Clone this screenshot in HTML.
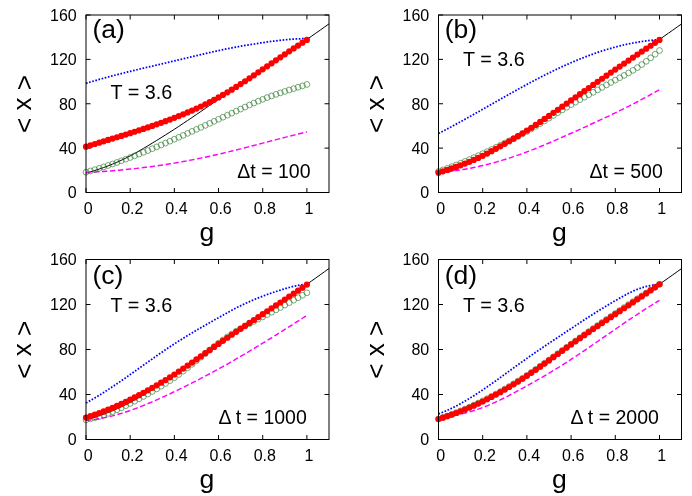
<!DOCTYPE html>
<html><head><meta charset="utf-8"><title>Chart</title>
<style>html,body{margin:0;padding:0;background:#fff;}body{width:692px;height:496px;overflow:hidden;font-family:"Liberation Sans",sans-serif;}svg{display:block;will-change:transform;}</style>
</head><body>
<svg width="692" height="496" viewBox="0 0 692 496" font-family="Liberation Sans, sans-serif">
<rect width="692" height="496" fill="#fff"/>
<g>
<path d="M86 192.5v-4.5M86 15v4.5M130.18 192.5v-4.5M130.18 15v4.5M174.36 192.5v-4.5M174.36 15v4.5M218.54 192.5v-4.5M218.54 15v4.5M262.72 192.5v-4.5M262.72 15v4.5M306.9 192.5v-4.5M306.9 15v4.5M86 192.5h4.5M329 192.5h-4.5M86 148.12h4.5M329 148.12h-4.5M86 103.75h4.5M329 103.75h-4.5M86 59.38h4.5M329 59.38h-4.5M86 15h4.5M329 15h-4.5" stroke="#000" stroke-width="1" fill="none"/>
<polyline points="86,173.09 90.42,171.84 94.84,170.5 99.25,169.06 103.67,167.52 108.09,165.88 112.51,164.12 116.93,162.25 121.34,160.25 125.76,158.14 130.18,155.89 134.6,153.52 139.02,151.03 143.43,148.46 147.85,145.82 152.27,143.13 156.69,140.42 161.11,137.68 165.52,134.91 169.94,132.11 174.36,129.27 178.78,126.38 183.2,123.45 187.61,120.49 192.03,117.51 196.45,114.5 200.87,111.47 205.29,108.44 209.7,105.39 214.12,102.35 218.54,99.31 222.96,96.28 227.38,93.27 231.79,90.26 236.21,87.25 240.63,84.26 245.05,81.27 249.47,78.29 253.88,75.31 258.3,72.33 262.72,69.36 267.14,66.39 271.56,63.42 275.97,60.44 280.39,57.47 284.81,54.48 289.23,51.49 293.65,48.49 298.06,45.48 302.48,42.45 306.9,39.41 311.32,36.34 315.74,33.26 320.15,30.16 324.57,27.03 328.99,23.88" fill="none" stroke="#000" stroke-width="1"/>
<polyline points="86,83.34 88.21,82.66 90.42,82 92.63,81.34 94.84,80.7 97.05,80.06 99.25,79.43 101.46,78.81 103.67,78.2 105.88,77.59 108.09,76.99 110.3,76.4 112.51,75.82 114.72,75.24 116.93,74.67 119.13,74.11 121.34,73.55 123.55,72.99 125.76,72.44 127.97,71.9 130.18,71.36 132.39,70.82 134.6,70.29 136.81,69.75 139.02,69.23 141.22,68.7 143.43,68.18 145.64,67.66 147.85,67.14 150.06,66.62 152.27,66.11 154.48,65.59 156.69,65.08 158.9,64.56 161.11,64.04 163.31,63.53 165.52,63.01 167.73,62.49 169.94,61.97 172.15,61.45 174.36,60.93 176.57,60.4 178.78,59.87 180.99,59.34 183.2,58.81 185.4,58.28 187.61,57.75 189.82,57.22 192.03,56.69 194.24,56.17 196.45,55.64 198.66,55.12 200.87,54.6 203.08,54.08 205.29,53.57 207.5,53.06 209.7,52.56 211.91,52.06 214.12,51.57 216.33,51.09 218.54,50.61 220.75,50.14 222.96,49.68 225.17,49.22 227.38,48.78 229.58,48.34 231.79,47.91 234,47.48 236.21,47.06 238.42,46.65 240.63,46.25 242.84,45.86 245.05,45.47 247.26,45.09 249.47,44.71 251.67,44.35 253.88,43.99 256.09,43.64 258.3,43.29 260.51,42.95 262.72,42.62 264.93,42.3 267.14,41.99 269.35,41.68 271.56,41.38 273.76,41.1 275.97,40.82 278.18,40.56 280.39,40.31 282.6,40.07 284.81,39.85 287.02,39.64 289.23,39.45 291.44,39.28 293.65,39.13 295.86,38.99 298.06,38.88 300.27,38.78 302.48,38.71 304.69,38.66 306.9,38.63" fill="none" stroke="#0000ff" stroke-width="1.75" stroke-dasharray="1.65 1.6"/>
<polyline points="86,172.53 88.21,172.41 90.42,172.29 92.63,172.16 94.84,172.02 97.05,171.88 99.25,171.74 101.46,171.59 103.67,171.43 105.88,171.27 108.09,171.1 110.3,170.93 112.51,170.75 114.72,170.56 116.93,170.37 119.13,170.17 121.34,169.97 123.55,169.76 125.76,169.54 127.97,169.32 130.18,169.09 132.39,168.86 134.6,168.62 136.81,168.37 139.02,168.11 141.22,167.85 143.43,167.59 145.64,167.31 147.85,167.03 150.06,166.74 152.27,166.45 154.48,166.15 156.69,165.84 158.9,165.52 161.11,165.2 163.31,164.87 165.52,164.53 167.73,164.18 169.94,163.83 172.15,163.47 174.36,163.1 176.57,162.73 178.78,162.34 180.99,161.95 183.2,161.55 185.4,161.15 187.61,160.74 189.82,160.32 192.03,159.89 194.24,159.45 196.45,159.01 198.66,158.57 200.87,158.11 203.08,157.65 205.29,157.18 207.5,156.7 209.7,156.22 211.91,155.73 214.12,155.24 216.33,154.73 218.54,154.23 220.75,153.71 222.96,153.19 225.17,152.66 227.38,152.13 229.58,151.6 231.79,151.05 234,150.51 236.21,149.96 238.42,149.4 240.63,148.85 242.84,148.28 245.05,147.72 247.26,147.15 249.47,146.58 251.67,146.01 253.88,145.44 256.09,144.86 258.3,144.29 260.51,143.71 262.72,143.13 264.93,142.56 267.14,141.98 269.35,141.4 271.56,140.82 273.76,140.25 275.97,139.67 278.18,139.1 280.39,138.53 282.6,137.96 284.81,137.39 287.02,136.83 289.23,136.27 291.44,135.71 293.65,135.16 295.86,134.61 298.06,134.06 300.27,133.52 302.48,132.98 304.69,132.45 306.9,131.93" fill="none" stroke="#ff00ff" stroke-width="1.45" stroke-dasharray="5.4 2.6"/>
<g fill="none" stroke="#1f701f" stroke-width="0.6">
<circle cx="86" cy="172.2" r="2.9"/>
<circle cx="90.42" cy="170.96" r="2.9"/>
<circle cx="94.84" cy="169.67" r="2.9"/>
<circle cx="99.25" cy="168.32" r="2.9"/>
<circle cx="103.67" cy="166.92" r="2.9"/>
<circle cx="108.09" cy="165.47" r="2.9"/>
<circle cx="112.51" cy="163.97" r="2.9"/>
<circle cx="116.93" cy="162.43" r="2.9"/>
<circle cx="121.34" cy="160.85" r="2.9"/>
<circle cx="125.76" cy="159.22" r="2.9"/>
<circle cx="130.18" cy="157.55" r="2.9"/>
<circle cx="134.6" cy="155.85" r="2.9"/>
<circle cx="139.02" cy="154.12" r="2.9"/>
<circle cx="143.43" cy="152.35" r="2.9"/>
<circle cx="147.85" cy="150.55" r="2.9"/>
<circle cx="152.27" cy="148.72" r="2.9"/>
<circle cx="156.69" cy="146.87" r="2.9"/>
<circle cx="161.11" cy="145" r="2.9"/>
<circle cx="165.52" cy="143.1" r="2.9"/>
<circle cx="169.94" cy="141.18" r="2.9"/>
<circle cx="174.36" cy="139.25" r="2.9"/>
<circle cx="178.78" cy="137.3" r="2.9"/>
<circle cx="183.2" cy="135.34" r="2.9"/>
<circle cx="187.61" cy="133.37" r="2.9"/>
<circle cx="192.03" cy="131.38" r="2.9"/>
<circle cx="196.45" cy="129.38" r="2.9"/>
<circle cx="200.87" cy="127.38" r="2.9"/>
<circle cx="205.29" cy="125.36" r="2.9"/>
<circle cx="209.7" cy="123.34" r="2.9"/>
<circle cx="214.12" cy="121.31" r="2.9"/>
<circle cx="218.54" cy="119.28" r="2.9"/>
<circle cx="222.96" cy="117.24" r="2.9"/>
<circle cx="227.38" cy="115.2" r="2.9"/>
<circle cx="231.79" cy="113.16" r="2.9"/>
<circle cx="236.21" cy="111.12" r="2.9"/>
<circle cx="240.63" cy="109.07" r="2.9"/>
<circle cx="245.05" cy="107.04" r="2.9"/>
<circle cx="249.47" cy="105.02" r="2.9"/>
<circle cx="253.88" cy="103.05" r="2.9"/>
<circle cx="258.3" cy="101.14" r="2.9"/>
<circle cx="262.72" cy="99.31" r="2.9"/>
<circle cx="267.14" cy="97.58" r="2.9"/>
<circle cx="271.56" cy="95.95" r="2.9"/>
<circle cx="275.97" cy="94.38" r="2.9"/>
<circle cx="280.39" cy="92.89" r="2.9"/>
<circle cx="284.81" cy="91.44" r="2.9"/>
<circle cx="289.23" cy="90.02" r="2.9"/>
<circle cx="293.65" cy="88.63" r="2.9"/>
<circle cx="298.06" cy="87.25" r="2.9"/>
<circle cx="302.48" cy="85.86" r="2.9"/>
<circle cx="306.9" cy="84.45" r="2.9"/>
</g>
<g fill="#ff0000">
<circle cx="86" cy="146.68" r="3.1"/>
<circle cx="90.42" cy="145.33" r="3.1"/>
<circle cx="94.84" cy="143.98" r="3.1"/>
<circle cx="99.25" cy="142.63" r="3.1"/>
<circle cx="103.67" cy="141.29" r="3.1"/>
<circle cx="108.09" cy="139.95" r="3.1"/>
<circle cx="112.51" cy="138.61" r="3.1"/>
<circle cx="116.93" cy="137.26" r="3.1"/>
<circle cx="121.34" cy="135.9" r="3.1"/>
<circle cx="125.76" cy="134.53" r="3.1"/>
<circle cx="130.18" cy="133.15" r="3.1"/>
<circle cx="134.6" cy="131.75" r="3.1"/>
<circle cx="139.02" cy="130.32" r="3.1"/>
<circle cx="143.43" cy="128.88" r="3.1"/>
<circle cx="147.85" cy="127.4" r="3.1"/>
<circle cx="152.27" cy="125.9" r="3.1"/>
<circle cx="156.69" cy="124.36" r="3.1"/>
<circle cx="161.11" cy="122.79" r="3.1"/>
<circle cx="165.52" cy="121.18" r="3.1"/>
<circle cx="169.94" cy="119.53" r="3.1"/>
<circle cx="174.36" cy="117.84" r="3.1"/>
<circle cx="178.78" cy="116.1" r="3.1"/>
<circle cx="183.2" cy="114.3" r="3.1"/>
<circle cx="187.61" cy="112.45" r="3.1"/>
<circle cx="192.03" cy="110.53" r="3.1"/>
<circle cx="196.45" cy="108.55" r="3.1"/>
<circle cx="200.87" cy="106.49" r="3.1"/>
<circle cx="205.29" cy="104.36" r="3.1"/>
<circle cx="209.7" cy="102.14" r="3.1"/>
<circle cx="214.12" cy="99.83" r="3.1"/>
<circle cx="218.54" cy="97.43" r="3.1"/>
<circle cx="222.96" cy="94.93" r="3.1"/>
<circle cx="227.38" cy="92.33" r="3.1"/>
<circle cx="231.79" cy="89.66" r="3.1"/>
<circle cx="236.21" cy="86.91" r="3.1"/>
<circle cx="240.63" cy="84.1" r="3.1"/>
<circle cx="245.05" cy="81.23" r="3.1"/>
<circle cx="249.47" cy="78.31" r="3.1"/>
<circle cx="253.88" cy="75.36" r="3.1"/>
<circle cx="258.3" cy="72.37" r="3.1"/>
<circle cx="262.72" cy="69.36" r="3.1"/>
<circle cx="267.14" cy="66.34" r="3.1"/>
<circle cx="271.56" cy="63.31" r="3.1"/>
<circle cx="275.97" cy="60.29" r="3.1"/>
<circle cx="280.39" cy="57.28" r="3.1"/>
<circle cx="284.81" cy="54.29" r="3.1"/>
<circle cx="289.23" cy="51.33" r="3.1"/>
<circle cx="293.65" cy="48.41" r="3.1"/>
<circle cx="298.06" cy="45.53" r="3.1"/>
<circle cx="302.48" cy="42.71" r="3.1"/>
<circle cx="306.9" cy="39.96" r="3.1"/>
</g>
<rect x="86" y="15" width="243" height="177.5" fill="none" stroke="#000" stroke-width="1"/>
<g font-size="16px" fill="#000">
<text x="76.7" y="198.3" text-anchor="end">0</text>
<text x="76.7" y="153.93" text-anchor="end">40</text>
<text x="76.7" y="109.55" text-anchor="end">80</text>
<text x="76.7" y="65.17" text-anchor="end">120</text>
<text x="76.7" y="20.8" text-anchor="end">160</text>
<text x="88.1" y="214.2" text-anchor="middle">0</text>
<text x="132.28" y="214.2" text-anchor="middle">0.2</text>
<text x="176.46" y="214.2" text-anchor="middle">0.4</text>
<text x="220.64" y="214.2" text-anchor="middle">0.6</text>
<text x="264.82" y="214.2" text-anchor="middle">0.8</text>
<text x="309" y="214.2" text-anchor="middle">1</text>
</g>
<text x="206.9" y="240.8" font-size="26.6px" text-anchor="middle">g</text>
<text transform="translate(31.4 104.05) rotate(-90)" font-size="26px" text-anchor="middle"><tspan dy="1.4">&lt;</tspan><tspan dy="-1.4"> x </tspan><tspan dy="1.4">&gt;</tspan></text>
<text x="92.5" y="38.3" font-size="26.5px">(a)</text>
<text x="110.5" y="99.4" font-size="19.8px">T = 3.6</text>
<text x="237.3" y="177.6" font-size="19.5px">Δt = 100</text>
</g>
<g>
<path d="M438.5 192.5v-4.5M438.5 15v4.5M482.7 192.5v-4.5M482.7 15v4.5M526.9 192.5v-4.5M526.9 15v4.5M571.1 192.5v-4.5M571.1 15v4.5M615.3 192.5v-4.5M615.3 15v4.5M659.5 192.5v-4.5M659.5 15v4.5M438.5 192.5h4.5M681.5 192.5h-4.5M438.5 148.12h4.5M681.5 148.12h-4.5M438.5 103.75h4.5M681.5 103.75h-4.5M438.5 59.38h4.5M681.5 59.38h-4.5M438.5 15h4.5M681.5 15h-4.5" stroke="#000" stroke-width="1" fill="none"/>
<polyline points="438.5,173.09 442.92,171.84 447.34,170.5 451.76,169.06 456.18,167.52 460.6,165.88 465.02,164.12 469.44,162.25 473.86,160.25 478.28,158.14 482.7,155.89 487.12,153.52 491.54,151.03 495.96,148.46 500.38,145.82 504.8,143.13 509.22,140.42 513.64,137.68 518.06,134.91 522.48,132.11 526.9,129.27 531.32,126.38 535.74,123.45 540.16,120.49 544.58,117.51 549,114.5 553.42,111.47 557.84,108.44 562.26,105.39 566.68,102.35 571.1,99.31 575.52,96.28 579.94,93.27 584.36,90.26 588.78,87.25 593.2,84.26 597.62,81.27 602.04,78.29 606.46,75.31 610.88,72.33 615.3,69.36 619.72,66.39 624.14,63.42 628.56,60.44 632.98,57.47 637.4,54.48 641.82,51.49 646.24,48.49 650.66,45.48 655.08,42.45 659.5,39.41 663.92,36.34 668.34,33.26 672.76,30.16 677.18,27.03 681.6,23.88" fill="none" stroke="#000" stroke-width="1"/>
<polyline points="438.5,133.48 440.71,132.35 442.92,131.2 445.13,130.05 447.34,128.89 449.55,127.71 451.76,126.53 453.97,125.34 456.18,124.14 458.39,122.93 460.6,121.72 462.81,120.5 465.02,119.27 467.23,118.04 469.44,116.8 471.65,115.56 473.86,114.31 476.07,113.06 478.28,111.81 480.49,110.55 482.7,109.3 484.91,108.04 487.12,106.78 489.33,105.52 491.54,104.25 493.75,102.99 495.96,101.73 498.17,100.47 500.38,99.22 502.59,97.96 504.8,96.71 507.01,95.46 509.22,94.22 511.43,92.97 513.64,91.74 515.85,90.51 518.06,89.28 520.27,88.06 522.48,86.85 524.69,85.64 526.9,84.45 529.11,83.26 531.32,82.08 533.53,80.9 535.74,79.74 537.95,78.59 540.16,77.44 542.37,76.31 544.58,75.19 546.79,74.08 549,72.98 551.21,71.89 553.42,70.82 555.63,69.75 557.84,68.7 560.05,67.67 562.26,66.65 564.47,65.64 566.68,64.64 568.89,63.67 571.1,62.7 573.31,61.76 575.52,60.82 577.73,59.91 579.94,59.01 582.15,58.13 584.36,57.26 586.57,56.41 588.78,55.58 590.99,54.77 593.2,53.98 595.41,53.2 597.62,52.44 599.83,51.7 602.04,50.98 604.25,50.28 606.46,49.59 608.67,48.93 610.88,48.29 613.09,47.66 615.3,47.06 617.51,46.48 619.72,45.92 621.93,45.38 624.14,44.86 626.35,44.36 628.56,43.88 630.77,43.43 632.98,43 635.19,42.59 637.4,42.2 639.61,41.83 641.82,41.49 644.03,41.18 646.24,40.88 648.45,40.61 650.66,40.37 652.87,40.14 655.08,39.95 657.29,39.78 659.5,39.63" fill="none" stroke="#0000ff" stroke-width="1.75" stroke-dasharray="1.65 1.6"/>
<polyline points="438.5,172.53 440.71,172.35 442.92,172.16 445.13,171.95 447.34,171.71 449.55,171.46 451.76,171.19 453.97,170.9 456.18,170.6 458.39,170.27 460.6,169.93 462.81,169.57 465.02,169.19 467.23,168.8 469.44,168.38 471.65,167.95 473.86,167.5 476.07,167.04 478.28,166.56 480.49,166.06 482.7,165.54 484.91,165.01 487.12,164.46 489.33,163.9 491.54,163.31 493.75,162.72 495.96,162.1 498.17,161.47 500.38,160.83 502.59,160.17 504.8,159.49 507.01,158.8 509.22,158.09 511.43,157.37 513.64,156.63 515.85,155.88 518.06,155.11 520.27,154.33 522.48,153.53 524.69,152.72 526.9,151.9 529.11,151.06 531.32,150.2 533.53,149.34 535.74,148.46 537.95,147.57 540.16,146.67 542.37,145.76 544.58,144.84 546.79,143.91 549,142.97 551.21,142.02 553.42,141.07 555.63,140.11 557.84,139.14 560.05,138.17 562.26,137.2 564.47,136.22 566.68,135.23 568.89,134.25 571.1,133.26 573.31,132.27 575.52,131.28 577.73,130.29 579.94,129.29 582.15,128.29 584.36,127.29 586.57,126.29 588.78,125.28 590.99,124.27 593.2,123.26 595.41,122.24 597.62,121.22 599.83,120.19 602.04,119.16 604.25,118.12 606.46,117.08 608.67,116.03 610.88,114.98 613.09,113.91 615.3,112.85 617.51,111.77 619.72,110.69 621.93,109.6 624.14,108.5 626.35,107.4 628.56,106.28 630.77,105.16 632.98,104.03 635.19,102.89 637.4,101.74 639.61,100.58 641.82,99.41 644.03,98.23 646.24,97.04 648.45,95.84 650.66,94.63 652.87,93.4 655.08,92.17 657.29,90.92 659.5,89.66" fill="none" stroke="#ff00ff" stroke-width="1.45" stroke-dasharray="5.4 2.6"/>
<g fill="none" stroke="#1f701f" stroke-width="0.6">
<circle cx="438.5" cy="171.42" r="2.9"/>
<circle cx="442.92" cy="169.89" r="2.9"/>
<circle cx="447.34" cy="168.3" r="2.9"/>
<circle cx="451.76" cy="166.66" r="2.9"/>
<circle cx="456.18" cy="164.96" r="2.9"/>
<circle cx="460.6" cy="163.21" r="2.9"/>
<circle cx="465.02" cy="161.41" r="2.9"/>
<circle cx="469.44" cy="159.55" r="2.9"/>
<circle cx="473.86" cy="157.64" r="2.9"/>
<circle cx="478.28" cy="155.68" r="2.9"/>
<circle cx="482.7" cy="153.67" r="2.9"/>
<circle cx="487.12" cy="151.61" r="2.9"/>
<circle cx="491.54" cy="149.51" r="2.9"/>
<circle cx="495.96" cy="147.38" r="2.9"/>
<circle cx="500.38" cy="145.21" r="2.9"/>
<circle cx="504.8" cy="143.02" r="2.9"/>
<circle cx="509.22" cy="140.81" r="2.9"/>
<circle cx="513.64" cy="138.57" r="2.9"/>
<circle cx="518.06" cy="136.28" r="2.9"/>
<circle cx="522.48" cy="133.92" r="2.9"/>
<circle cx="526.9" cy="131.48" r="2.9"/>
<circle cx="531.32" cy="128.95" r="2.9"/>
<circle cx="535.74" cy="126.33" r="2.9"/>
<circle cx="540.16" cy="123.65" r="2.9"/>
<circle cx="544.58" cy="120.93" r="2.9"/>
<circle cx="549" cy="118.17" r="2.9"/>
<circle cx="553.42" cy="115.41" r="2.9"/>
<circle cx="557.84" cy="112.66" r="2.9"/>
<circle cx="562.26" cy="109.93" r="2.9"/>
<circle cx="566.68" cy="107.25" r="2.9"/>
<circle cx="571.1" cy="104.64" r="2.9"/>
<circle cx="575.52" cy="102.1" r="2.9"/>
<circle cx="579.94" cy="99.62" r="2.9"/>
<circle cx="584.36" cy="97.18" r="2.9"/>
<circle cx="588.78" cy="94.75" r="2.9"/>
<circle cx="593.2" cy="92.32" r="2.9"/>
<circle cx="597.62" cy="89.87" r="2.9"/>
<circle cx="602.04" cy="87.41" r="2.9"/>
<circle cx="606.46" cy="84.96" r="2.9"/>
<circle cx="610.88" cy="82.52" r="2.9"/>
<circle cx="615.3" cy="80.12" r="2.9"/>
<circle cx="619.72" cy="77.76" r="2.9"/>
<circle cx="624.14" cy="75.39" r="2.9"/>
<circle cx="628.56" cy="72.95" r="2.9"/>
<circle cx="632.98" cy="70.37" r="2.9"/>
<circle cx="637.4" cy="67.58" r="2.9"/>
<circle cx="641.82" cy="64.56" r="2.9"/>
<circle cx="646.24" cy="61.3" r="2.9"/>
<circle cx="650.66" cy="57.85" r="2.9"/>
<circle cx="655.08" cy="54.24" r="2.9"/>
<circle cx="659.5" cy="50.5" r="2.9"/>
</g>
<g fill="#ff0000">
<circle cx="438.5" cy="172.64" r="3.1"/>
<circle cx="442.92" cy="171.32" r="3.1"/>
<circle cx="447.34" cy="169.93" r="3.1"/>
<circle cx="451.76" cy="168.47" r="3.1"/>
<circle cx="456.18" cy="166.94" r="3.1"/>
<circle cx="460.6" cy="165.32" r="3.1"/>
<circle cx="465.02" cy="163.61" r="3.1"/>
<circle cx="469.44" cy="161.81" r="3.1"/>
<circle cx="473.86" cy="159.91" r="3.1"/>
<circle cx="478.28" cy="157.9" r="3.1"/>
<circle cx="482.7" cy="155.78" r="3.1"/>
<circle cx="487.12" cy="153.55" r="3.1"/>
<circle cx="491.54" cy="151.21" r="3.1"/>
<circle cx="495.96" cy="148.8" r="3.1"/>
<circle cx="500.38" cy="146.32" r="3.1"/>
<circle cx="504.8" cy="143.8" r="3.1"/>
<circle cx="509.22" cy="141.25" r="3.1"/>
<circle cx="513.64" cy="138.66" r="3.1"/>
<circle cx="518.06" cy="136.03" r="3.1"/>
<circle cx="522.48" cy="133.35" r="3.1"/>
<circle cx="526.9" cy="130.6" r="3.1"/>
<circle cx="531.32" cy="127.78" r="3.1"/>
<circle cx="535.74" cy="124.9" r="3.1"/>
<circle cx="540.16" cy="121.95" r="3.1"/>
<circle cx="544.58" cy="118.96" r="3.1"/>
<circle cx="549" cy="115.93" r="3.1"/>
<circle cx="553.42" cy="112.87" r="3.1"/>
<circle cx="557.84" cy="109.78" r="3.1"/>
<circle cx="562.26" cy="106.67" r="3.1"/>
<circle cx="566.68" cy="103.54" r="3.1"/>
<circle cx="571.1" cy="100.42" r="3.1"/>
<circle cx="575.52" cy="97.3" r="3.1"/>
<circle cx="579.94" cy="94.19" r="3.1"/>
<circle cx="584.36" cy="91.08" r="3.1"/>
<circle cx="588.78" cy="87.98" r="3.1"/>
<circle cx="593.2" cy="84.89" r="3.1"/>
<circle cx="597.62" cy="81.81" r="3.1"/>
<circle cx="602.04" cy="78.74" r="3.1"/>
<circle cx="606.46" cy="75.67" r="3.1"/>
<circle cx="610.88" cy="72.62" r="3.1"/>
<circle cx="615.3" cy="69.58" r="3.1"/>
<circle cx="619.72" cy="66.55" r="3.1"/>
<circle cx="624.14" cy="63.54" r="3.1"/>
<circle cx="628.56" cy="60.54" r="3.1"/>
<circle cx="632.98" cy="57.55" r="3.1"/>
<circle cx="637.4" cy="54.57" r="3.1"/>
<circle cx="641.82" cy="51.62" r="3.1"/>
<circle cx="646.24" cy="48.68" r="3.1"/>
<circle cx="650.66" cy="45.75" r="3.1"/>
<circle cx="655.08" cy="42.85" r="3.1"/>
<circle cx="659.5" cy="39.96" r="3.1"/>
</g>
<rect x="438.5" y="15" width="243" height="177.5" fill="none" stroke="#000" stroke-width="1"/>
<g font-size="16px" fill="#000">
<text x="429.2" y="198.3" text-anchor="end">0</text>
<text x="429.2" y="153.93" text-anchor="end">40</text>
<text x="429.2" y="109.55" text-anchor="end">80</text>
<text x="429.2" y="65.17" text-anchor="end">120</text>
<text x="429.2" y="20.8" text-anchor="end">160</text>
<text x="440.6" y="214.2" text-anchor="middle">0</text>
<text x="484.8" y="214.2" text-anchor="middle">0.2</text>
<text x="529" y="214.2" text-anchor="middle">0.4</text>
<text x="573.2" y="214.2" text-anchor="middle">0.6</text>
<text x="617.4" y="214.2" text-anchor="middle">0.8</text>
<text x="661.6" y="214.2" text-anchor="middle">1</text>
</g>
<text x="559.4" y="240.8" font-size="26.6px" text-anchor="middle">g</text>
<text transform="translate(383.9 104.05) rotate(-90)" font-size="26px" text-anchor="middle"><tspan dy="1.4">&lt;</tspan><tspan dy="-1.4"> x </tspan><tspan dy="1.4">&gt;</tspan></text>
<text x="444.8" y="38.3" font-size="26.5px">(b)</text>
<text x="463" y="66.4" font-size="19.8px">T = 3.6</text>
<text x="589.6" y="177.6" font-size="19.5px">Δt = 500</text>
</g>
<g>
<path d="M86 439.5v-4.5M86 259.5v4.5M130.18 439.5v-4.5M130.18 259.5v4.5M174.36 439.5v-4.5M174.36 259.5v4.5M218.54 439.5v-4.5M218.54 259.5v4.5M262.72 439.5v-4.5M262.72 259.5v4.5M306.9 439.5v-4.5M306.9 259.5v4.5M86 439.5h4.5M329 439.5h-4.5M86 394.5h4.5M329 394.5h-4.5M86 349.5h4.5M329 349.5h-4.5M86 304.5h4.5M329 304.5h-4.5M86 259.5h4.5M329 259.5h-4.5" stroke="#000" stroke-width="1" fill="none"/>
<polyline points="86,419.81 90.42,418.55 94.84,417.19 99.25,415.73 103.67,414.17 108.09,412.5 112.51,410.72 116.93,408.82 121.34,406.8 125.76,404.65 130.18,402.38 134.6,399.97 139.02,397.45 143.43,394.84 147.85,392.16 152.27,389.44 156.69,386.69 161.11,383.91 165.52,381.1 169.94,378.26 174.36,375.38 178.78,372.45 183.2,369.48 187.61,366.48 192.03,363.45 196.45,360.4 200.87,357.33 205.29,354.25 209.7,351.17 214.12,348.08 218.54,345 222.96,341.93 227.38,338.87 231.79,335.81 236.21,332.77 240.63,329.73 245.05,326.7 249.47,323.68 253.88,320.66 258.3,317.64 262.72,314.62 267.14,311.61 271.56,308.6 275.97,305.58 280.39,302.57 284.81,299.54 289.23,296.51 293.65,293.46 298.06,290.41 302.48,287.34 306.9,284.25 311.32,281.14 315.74,278.02 320.15,274.87 324.57,271.7 328.99,268.5" fill="none" stroke="#000" stroke-width="1"/>
<polyline points="86,402.94 88.21,401.72 90.42,400.48 92.63,399.21 94.84,397.92 97.05,396.6 99.25,395.25 101.46,393.89 103.67,392.5 105.88,391.09 108.09,389.66 110.3,388.21 112.51,386.75 114.72,385.27 116.93,383.78 119.13,382.27 121.34,380.75 123.55,379.23 125.76,377.69 127.97,376.14 130.18,374.59 132.39,373.03 134.6,371.46 136.81,369.9 139.02,368.33 141.22,366.75 143.43,365.18 145.64,363.61 147.85,362.05 150.06,360.48 152.27,358.92 154.48,357.37 156.69,355.83 158.9,354.29 161.11,352.76 163.31,351.25 165.52,349.74 167.73,348.25 169.94,346.78 172.15,345.32 174.36,343.88 176.57,342.45 178.78,341.04 180.99,339.65 183.2,338.27 185.4,336.91 187.61,335.57 189.82,334.23 192.03,332.91 194.24,331.6 196.45,330.3 198.66,329 200.87,327.72 203.08,326.45 205.29,325.18 207.5,323.92 209.7,322.66 211.91,321.41 214.12,320.16 216.33,318.91 218.54,317.66 220.75,316.42 222.96,315.18 225.17,313.94 227.38,312.72 229.58,311.51 231.79,310.31 234,309.13 236.21,307.98 238.42,306.84 240.63,305.74 242.84,304.66 245.05,303.61 247.26,302.6 249.47,301.6 251.67,300.64 253.88,299.7 256.09,298.78 258.3,297.89 260.51,297.02 262.72,296.18 264.93,295.35 267.14,294.54 269.35,293.76 271.56,292.99 273.76,292.24 275.97,291.51 278.18,290.79 280.39,290.1 282.6,289.42 284.81,288.75 287.02,288.1 289.23,287.47 291.44,286.88 293.65,286.33 295.86,285.82 298.06,285.38 300.27,285 302.48,284.7 304.69,284.49 306.9,284.36" fill="none" stroke="#0000ff" stroke-width="1.75" stroke-dasharray="1.65 1.6"/>
<polyline points="86,420.38 88.21,420.18 90.42,419.96 92.63,419.69 94.84,419.4 97.05,419.06 99.25,418.7 101.46,418.3 103.67,417.87 105.88,417.41 108.09,416.91 110.3,416.39 112.51,415.84 114.72,415.26 116.93,414.65 119.13,414.02 121.34,413.36 123.55,412.67 125.76,411.96 127.97,411.23 130.18,410.48 132.39,409.7 134.6,408.9 136.81,408.08 139.02,407.24 141.22,406.38 143.43,405.5 145.64,404.6 147.85,403.69 150.06,402.76 152.27,401.81 154.48,400.86 156.69,399.88 158.9,398.9 161.11,397.9 163.31,396.89 165.52,395.87 167.73,394.83 169.94,393.79 172.15,392.74 174.36,391.69 176.57,390.62 178.78,389.55 180.99,388.47 183.2,387.39 185.4,386.29 187.61,385.19 189.82,384.08 192.03,382.97 194.24,381.84 196.45,380.71 198.66,379.57 200.87,378.43 203.08,377.27 205.29,376.11 207.5,374.94 209.7,373.76 211.91,372.57 214.12,371.38 216.33,370.17 218.54,368.96 220.75,367.74 222.96,366.51 225.17,365.28 227.38,364.03 229.58,362.78 231.79,361.52 234,360.26 236.21,358.98 238.42,357.7 240.63,356.42 242.84,355.12 245.05,353.82 247.26,352.51 249.47,351.2 251.67,349.88 253.88,348.56 256.09,347.23 258.3,345.89 260.51,344.55 262.72,343.2 264.93,341.85 267.14,340.49 269.35,339.13 271.56,337.76 273.76,336.39 275.97,335.02 278.18,333.64 280.39,332.25 282.6,330.87 284.81,329.48 287.02,328.08 289.23,326.69 291.44,325.29 293.65,323.88 295.86,322.48 298.06,321.07 300.27,319.66 302.48,318.24 304.69,316.83 306.9,315.41" fill="none" stroke="#ff00ff" stroke-width="1.45" stroke-dasharray="5.4 2.6"/>
<g fill="none" stroke="#1f701f" stroke-width="0.6">
<circle cx="86" cy="419.81" r="2.9"/>
<circle cx="90.42" cy="418.88" r="2.9"/>
<circle cx="94.84" cy="417.76" r="2.9"/>
<circle cx="99.25" cy="416.46" r="2.9"/>
<circle cx="103.67" cy="415.01" r="2.9"/>
<circle cx="108.09" cy="413.4" r="2.9"/>
<circle cx="112.51" cy="411.65" r="2.9"/>
<circle cx="116.93" cy="409.78" r="2.9"/>
<circle cx="121.34" cy="407.79" r="2.9"/>
<circle cx="125.76" cy="405.69" r="2.9"/>
<circle cx="130.18" cy="403.5" r="2.9"/>
<circle cx="134.6" cy="401.23" r="2.9"/>
<circle cx="139.02" cy="398.88" r="2.9"/>
<circle cx="143.43" cy="396.47" r="2.9"/>
<circle cx="147.85" cy="393.99" r="2.9"/>
<circle cx="152.27" cy="391.46" r="2.9"/>
<circle cx="156.69" cy="388.88" r="2.9"/>
<circle cx="161.11" cy="386.23" r="2.9"/>
<circle cx="165.52" cy="383.48" r="2.9"/>
<circle cx="169.94" cy="380.62" r="2.9"/>
<circle cx="174.36" cy="377.62" r="2.9"/>
<circle cx="178.78" cy="374.47" r="2.9"/>
<circle cx="183.2" cy="371.18" r="2.9"/>
<circle cx="187.61" cy="367.79" r="2.9"/>
<circle cx="192.03" cy="364.3" r="2.9"/>
<circle cx="196.45" cy="360.75" r="2.9"/>
<circle cx="200.87" cy="357.17" r="2.9"/>
<circle cx="205.29" cy="353.58" r="2.9"/>
<circle cx="209.7" cy="350.04" r="2.9"/>
<circle cx="214.12" cy="346.56" r="2.9"/>
<circle cx="218.54" cy="343.2" r="2.9"/>
<circle cx="222.96" cy="339.98" r="2.9"/>
<circle cx="227.38" cy="336.91" r="2.9"/>
<circle cx="231.79" cy="333.98" r="2.9"/>
<circle cx="236.21" cy="331.2" r="2.9"/>
<circle cx="240.63" cy="328.57" r="2.9"/>
<circle cx="245.05" cy="326.09" r="2.9"/>
<circle cx="249.47" cy="323.71" r="2.9"/>
<circle cx="253.88" cy="321.41" r="2.9"/>
<circle cx="258.3" cy="319.14" r="2.9"/>
<circle cx="262.72" cy="316.88" r="2.9"/>
<circle cx="267.14" cy="314.57" r="2.9"/>
<circle cx="271.56" cy="312.24" r="2.9"/>
<circle cx="275.97" cy="309.87" r="2.9"/>
<circle cx="280.39" cy="307.48" r="2.9"/>
<circle cx="284.81" cy="305.06" r="2.9"/>
<circle cx="289.23" cy="302.63" r="2.9"/>
<circle cx="293.65" cy="300.18" r="2.9"/>
<circle cx="298.06" cy="297.72" r="2.9"/>
<circle cx="302.48" cy="295.26" r="2.9"/>
<circle cx="306.9" cy="292.8" r="2.9"/>
</g>
<g fill="#ff0000">
<circle cx="86" cy="417.56" r="3.1"/>
<circle cx="90.42" cy="416.17" r="3.1"/>
<circle cx="94.84" cy="414.69" r="3.1"/>
<circle cx="99.25" cy="413.11" r="3.1"/>
<circle cx="103.67" cy="411.44" r="3.1"/>
<circle cx="108.09" cy="409.69" r="3.1"/>
<circle cx="112.51" cy="407.85" r="3.1"/>
<circle cx="116.93" cy="405.92" r="3.1"/>
<circle cx="121.34" cy="403.92" r="3.1"/>
<circle cx="125.76" cy="401.83" r="3.1"/>
<circle cx="130.18" cy="399.68" r="3.1"/>
<circle cx="134.6" cy="397.44" r="3.1"/>
<circle cx="139.02" cy="395.15" r="3.1"/>
<circle cx="143.43" cy="392.78" r="3.1"/>
<circle cx="147.85" cy="390.35" r="3.1"/>
<circle cx="152.27" cy="387.86" r="3.1"/>
<circle cx="156.69" cy="385.32" r="3.1"/>
<circle cx="161.11" cy="382.71" r="3.1"/>
<circle cx="165.52" cy="380.03" r="3.1"/>
<circle cx="169.94" cy="377.29" r="3.1"/>
<circle cx="174.36" cy="374.48" r="3.1"/>
<circle cx="178.78" cy="371.58" r="3.1"/>
<circle cx="183.2" cy="368.62" r="3.1"/>
<circle cx="187.61" cy="365.61" r="3.1"/>
<circle cx="192.03" cy="362.55" r="3.1"/>
<circle cx="196.45" cy="359.46" r="3.1"/>
<circle cx="200.87" cy="356.34" r="3.1"/>
<circle cx="205.29" cy="353.21" r="3.1"/>
<circle cx="209.7" cy="350.09" r="3.1"/>
<circle cx="214.12" cy="346.97" r="3.1"/>
<circle cx="218.54" cy="343.88" r="3.1"/>
<circle cx="222.96" cy="340.81" r="3.1"/>
<circle cx="227.38" cy="337.77" r="3.1"/>
<circle cx="231.79" cy="334.77" r="3.1"/>
<circle cx="236.21" cy="331.78" r="3.1"/>
<circle cx="240.63" cy="328.81" r="3.1"/>
<circle cx="245.05" cy="325.86" r="3.1"/>
<circle cx="249.47" cy="322.93" r="3.1"/>
<circle cx="253.88" cy="320" r="3.1"/>
<circle cx="258.3" cy="317.09" r="3.1"/>
<circle cx="262.72" cy="314.18" r="3.1"/>
<circle cx="267.14" cy="311.26" r="3.1"/>
<circle cx="271.56" cy="308.35" r="3.1"/>
<circle cx="275.97" cy="305.43" r="3.1"/>
<circle cx="280.39" cy="302.5" r="3.1"/>
<circle cx="284.81" cy="299.56" r="3.1"/>
<circle cx="289.23" cy="296.61" r="3.1"/>
<circle cx="293.65" cy="293.64" r="3.1"/>
<circle cx="298.06" cy="290.65" r="3.1"/>
<circle cx="302.48" cy="287.63" r="3.1"/>
<circle cx="306.9" cy="284.59" r="3.1"/>
</g>
<rect x="86" y="259.5" width="243" height="180" fill="none" stroke="#000" stroke-width="1"/>
<g font-size="16px" fill="#000">
<text x="76.7" y="445.3" text-anchor="end">0</text>
<text x="76.7" y="400.3" text-anchor="end">40</text>
<text x="76.7" y="355.3" text-anchor="end">80</text>
<text x="76.7" y="310.3" text-anchor="end">120</text>
<text x="76.7" y="265.3" text-anchor="end">160</text>
<text x="88.1" y="461.2" text-anchor="middle">0</text>
<text x="132.28" y="461.2" text-anchor="middle">0.2</text>
<text x="176.46" y="461.2" text-anchor="middle">0.4</text>
<text x="220.64" y="461.2" text-anchor="middle">0.6</text>
<text x="264.82" y="461.2" text-anchor="middle">0.8</text>
<text x="309" y="461.2" text-anchor="middle">1</text>
</g>
<text x="206.9" y="487.8" font-size="26.6px" text-anchor="middle">g</text>
<text transform="translate(31.4 349.8) rotate(-90)" font-size="26px" text-anchor="middle"><tspan dy="1.4">&lt;</tspan><tspan dy="-1.4"> x </tspan><tspan dy="1.4">&gt;</tspan></text>
<text x="92.5" y="283.5" font-size="26.5px">(c)</text>
<text x="110.5" y="311.5" font-size="19.8px">T = 3.6</text>
<text x="218.4" y="424.4" font-size="19.5px">Δ t = 1000</text>
</g>
<g>
<path d="M438.5 439.5v-4.5M438.5 259.5v4.5M482.7 439.5v-4.5M482.7 259.5v4.5M526.9 439.5v-4.5M526.9 259.5v4.5M571.1 439.5v-4.5M571.1 259.5v4.5M615.3 439.5v-4.5M615.3 259.5v4.5M659.5 439.5v-4.5M659.5 259.5v4.5M438.5 439.5h4.5M681.5 439.5h-4.5M438.5 394.5h4.5M681.5 394.5h-4.5M438.5 349.5h4.5M681.5 349.5h-4.5M438.5 304.5h4.5M681.5 304.5h-4.5M438.5 259.5h4.5M681.5 259.5h-4.5" stroke="#000" stroke-width="1" fill="none"/>
<polyline points="438.5,419.81 442.92,418.55 447.34,417.19 451.76,415.73 456.18,414.17 460.6,412.5 465.02,410.72 469.44,408.82 473.86,406.8 478.28,404.65 482.7,402.38 487.12,399.97 491.54,397.45 495.96,394.84 500.38,392.16 504.8,389.44 509.22,386.69 513.64,383.91 518.06,381.1 522.48,378.26 526.9,375.38 531.32,372.45 535.74,369.48 540.16,366.48 544.58,363.45 549,360.4 553.42,357.33 557.84,354.25 562.26,351.17 566.68,348.08 571.1,345 575.52,341.93 579.94,338.87 584.36,335.81 588.78,332.77 593.2,329.73 597.62,326.7 602.04,323.68 606.46,320.66 610.88,317.64 615.3,314.62 619.72,311.61 624.14,308.6 628.56,305.58 632.98,302.57 637.4,299.54 641.82,296.51 646.24,293.46 650.66,290.41 655.08,287.34 659.5,284.25 663.92,281.14 668.34,278.02 672.76,274.87 677.18,271.7 681.6,268.5" fill="none" stroke="#000" stroke-width="1"/>
<polyline points="438.5,413.96 440.71,413.12 442.92,412.23 445.13,411.3 447.34,410.32 449.55,409.3 451.76,408.24 453.97,407.14 456.18,406 458.39,404.82 460.6,403.61 462.81,402.36 465.02,401.08 467.23,399.78 469.44,398.44 471.65,397.07 473.86,395.68 476.07,394.27 478.28,392.83 480.49,391.37 482.7,389.89 484.91,388.39 487.12,386.87 489.33,385.34 491.54,383.8 493.75,382.24 495.96,380.67 498.17,379.09 500.38,377.5 502.59,375.91 504.8,374.31 507.01,372.71 509.22,371.11 511.43,369.5 513.64,367.9 515.85,366.3 518.06,364.7 520.27,363.11 522.48,361.53 524.69,359.95 526.9,358.39 529.11,356.83 531.32,355.29 533.53,353.76 535.74,352.23 537.95,350.72 540.16,349.21 542.37,347.71 544.58,346.22 546.79,344.74 549,343.25 551.21,341.78 553.42,340.31 555.63,338.84 557.84,337.37 560.05,335.9 562.26,334.44 564.47,332.97 566.68,331.51 568.89,330.04 571.1,328.57 573.31,327.11 575.52,325.63 577.73,324.16 579.94,322.7 582.15,321.24 584.36,319.78 586.57,318.33 588.78,316.9 590.99,315.47 593.2,314.06 595.41,312.67 597.62,311.29 599.83,309.92 602.04,308.57 604.25,307.23 606.46,305.9 608.67,304.58 610.88,303.27 613.09,301.97 615.3,300.68 617.51,299.39 619.72,298.12 621.93,296.87 624.14,295.65 626.35,294.47 628.56,293.32 630.77,292.23 632.98,291.19 635.19,290.22 637.4,289.31 639.61,288.48 641.82,287.73 644.03,287.06 646.24,286.46 648.45,285.94 650.66,285.49 652.87,285.12 655.08,284.83 657.29,284.62 659.5,284.47" fill="none" stroke="#0000ff" stroke-width="1.75" stroke-dasharray="1.65 1.6"/>
<polyline points="438.5,419.25 440.71,418.74 442.92,418.24 445.13,417.75 447.34,417.25 449.55,416.76 451.76,416.26 453.97,415.76 456.18,415.25 458.39,414.72 460.6,414.19 462.81,413.64 465.02,413.07 467.23,412.47 469.44,411.86 471.65,411.22 473.86,410.55 476.07,409.85 478.28,409.12 480.49,408.36 482.7,407.55 484.91,406.7 487.12,405.82 489.33,404.9 491.54,403.95 493.75,402.96 495.96,401.95 498.17,400.91 500.38,399.84 502.59,398.76 504.8,397.65 507.01,396.53 509.22,395.38 511.43,394.23 513.64,393.06 515.85,391.88 518.06,390.68 520.27,389.48 522.48,388.27 524.69,387.06 526.9,385.84 529.11,384.61 531.32,383.38 533.53,382.15 535.74,380.9 537.95,379.65 540.16,378.39 542.37,377.12 544.58,375.84 546.79,374.55 549,373.24 551.21,371.91 553.42,370.58 555.63,369.22 557.84,367.86 560.05,366.48 562.26,365.09 564.47,363.68 566.68,362.27 568.89,360.84 571.1,359.4 573.31,357.95 575.52,356.49 577.73,355.02 579.94,353.54 582.15,352.05 584.36,350.56 586.57,349.06 588.78,347.55 590.99,346.04 593.2,344.52 595.41,343 597.62,341.48 599.83,339.95 602.04,338.42 604.25,336.89 606.46,335.36 608.67,333.83 610.88,332.3 613.09,330.77 615.3,329.25 617.51,327.73 619.72,326.21 621.93,324.7 624.14,323.19 626.35,321.69 628.56,320.19 630.77,318.7 632.98,317.22 635.19,315.75 637.4,314.29 639.61,312.84 641.82,311.4 644.03,309.97 646.24,308.55 648.45,307.14 650.66,305.75 652.87,304.38 655.08,303.01 657.29,301.67 659.5,300.34" fill="none" stroke="#ff00ff" stroke-width="1.45" stroke-dasharray="5.4 2.6"/>
<g fill="none" stroke="#1f701f" stroke-width="0.6">
<circle cx="438.5" cy="419.02" r="2.9"/>
<circle cx="442.92" cy="417.55" r="2.9"/>
<circle cx="447.34" cy="416" r="2.9"/>
<circle cx="451.76" cy="414.37" r="2.9"/>
<circle cx="456.18" cy="412.67" r="2.9"/>
<circle cx="460.6" cy="410.9" r="2.9"/>
<circle cx="465.02" cy="409.05" r="2.9"/>
<circle cx="469.44" cy="407.13" r="2.9"/>
<circle cx="473.86" cy="405.13" r="2.9"/>
<circle cx="478.28" cy="403.06" r="2.9"/>
<circle cx="482.7" cy="400.91" r="2.9"/>
<circle cx="487.12" cy="398.69" r="2.9"/>
<circle cx="491.54" cy="396.4" r="2.9"/>
<circle cx="495.96" cy="394.03" r="2.9"/>
<circle cx="500.38" cy="391.59" r="2.9"/>
<circle cx="504.8" cy="389.07" r="2.9"/>
<circle cx="509.22" cy="386.48" r="2.9"/>
<circle cx="513.64" cy="383.81" r="2.9"/>
<circle cx="518.06" cy="381.07" r="2.9"/>
<circle cx="522.48" cy="378.26" r="2.9"/>
<circle cx="526.9" cy="375.38" r="2.9"/>
<circle cx="531.32" cy="372.42" r="2.9"/>
<circle cx="535.74" cy="369.39" r="2.9"/>
<circle cx="540.16" cy="366.32" r="2.9"/>
<circle cx="544.58" cy="363.2" r="2.9"/>
<circle cx="549" cy="360.04" r="2.9"/>
<circle cx="553.42" cy="356.86" r="2.9"/>
<circle cx="557.84" cy="353.67" r="2.9"/>
<circle cx="562.26" cy="350.47" r="2.9"/>
<circle cx="566.68" cy="347.28" r="2.9"/>
<circle cx="571.1" cy="344.1" r="2.9"/>
<circle cx="575.52" cy="340.95" r="2.9"/>
<circle cx="579.94" cy="337.82" r="2.9"/>
<circle cx="584.36" cy="334.71" r="2.9"/>
<circle cx="588.78" cy="331.62" r="2.9"/>
<circle cx="593.2" cy="328.56" r="2.9"/>
<circle cx="597.62" cy="325.51" r="2.9"/>
<circle cx="602.04" cy="322.49" r="2.9"/>
<circle cx="606.46" cy="319.47" r="2.9"/>
<circle cx="610.88" cy="316.48" r="2.9"/>
<circle cx="615.3" cy="313.5" r="2.9"/>
<circle cx="619.72" cy="310.53" r="2.9"/>
<circle cx="624.14" cy="307.58" r="2.9"/>
<circle cx="628.56" cy="304.64" r="2.9"/>
<circle cx="632.98" cy="301.7" r="2.9"/>
<circle cx="637.4" cy="298.78" r="2.9"/>
<circle cx="641.82" cy="295.86" r="2.9"/>
<circle cx="646.24" cy="292.95" r="2.9"/>
<circle cx="650.66" cy="290.05" r="2.9"/>
<circle cx="655.08" cy="287.15" r="2.9"/>
<circle cx="659.5" cy="284.25" r="2.9"/>
</g>
<g fill="#ff0000">
<circle cx="438.5" cy="419.02" r="3.1"/>
<circle cx="442.92" cy="417.65" r="3.1"/>
<circle cx="447.34" cy="416.19" r="3.1"/>
<circle cx="451.76" cy="414.65" r="3.1"/>
<circle cx="456.18" cy="413.02" r="3.1"/>
<circle cx="460.6" cy="411.3" r="3.1"/>
<circle cx="465.02" cy="409.5" r="3.1"/>
<circle cx="469.44" cy="407.62" r="3.1"/>
<circle cx="473.86" cy="405.65" r="3.1"/>
<circle cx="478.28" cy="403.61" r="3.1"/>
<circle cx="482.7" cy="401.48" r="3.1"/>
<circle cx="487.12" cy="399.26" r="3.1"/>
<circle cx="491.54" cy="396.97" r="3.1"/>
<circle cx="495.96" cy="394.6" r="3.1"/>
<circle cx="500.38" cy="392.15" r="3.1"/>
<circle cx="504.8" cy="389.62" r="3.1"/>
<circle cx="509.22" cy="387.02" r="3.1"/>
<circle cx="513.64" cy="384.33" r="3.1"/>
<circle cx="518.06" cy="381.57" r="3.1"/>
<circle cx="522.48" cy="378.74" r="3.1"/>
<circle cx="526.9" cy="375.82" r="3.1"/>
<circle cx="531.32" cy="372.84" r="3.1"/>
<circle cx="535.74" cy="369.79" r="3.1"/>
<circle cx="540.16" cy="366.69" r="3.1"/>
<circle cx="544.58" cy="363.55" r="3.1"/>
<circle cx="549" cy="360.38" r="3.1"/>
<circle cx="553.42" cy="357.19" r="3.1"/>
<circle cx="557.84" cy="353.99" r="3.1"/>
<circle cx="562.26" cy="350.79" r="3.1"/>
<circle cx="566.68" cy="347.6" r="3.1"/>
<circle cx="571.1" cy="344.44" r="3.1"/>
<circle cx="575.52" cy="341.31" r="3.1"/>
<circle cx="579.94" cy="338.21" r="3.1"/>
<circle cx="584.36" cy="335.14" r="3.1"/>
<circle cx="588.78" cy="332.09" r="3.1"/>
<circle cx="593.2" cy="329.07" r="3.1"/>
<circle cx="597.62" cy="326.06" r="3.1"/>
<circle cx="602.04" cy="323.08" r="3.1"/>
<circle cx="606.46" cy="320.1" r="3.1"/>
<circle cx="610.88" cy="317.13" r="3.1"/>
<circle cx="615.3" cy="314.18" r="3.1"/>
<circle cx="619.72" cy="311.22" r="3.1"/>
<circle cx="624.14" cy="308.26" r="3.1"/>
<circle cx="628.56" cy="305.3" r="3.1"/>
<circle cx="632.98" cy="302.34" r="3.1"/>
<circle cx="637.4" cy="299.37" r="3.1"/>
<circle cx="641.82" cy="296.38" r="3.1"/>
<circle cx="646.24" cy="293.38" r="3.1"/>
<circle cx="650.66" cy="290.36" r="3.1"/>
<circle cx="655.08" cy="287.32" r="3.1"/>
<circle cx="659.5" cy="284.25" r="3.1"/>
</g>
<rect x="438.5" y="259.5" width="243" height="180" fill="none" stroke="#000" stroke-width="1"/>
<g font-size="16px" fill="#000">
<text x="429.2" y="445.3" text-anchor="end">0</text>
<text x="429.2" y="400.3" text-anchor="end">40</text>
<text x="429.2" y="355.3" text-anchor="end">80</text>
<text x="429.2" y="310.3" text-anchor="end">120</text>
<text x="429.2" y="265.3" text-anchor="end">160</text>
<text x="440.6" y="461.2" text-anchor="middle">0</text>
<text x="484.8" y="461.2" text-anchor="middle">0.2</text>
<text x="529" y="461.2" text-anchor="middle">0.4</text>
<text x="573.2" y="461.2" text-anchor="middle">0.6</text>
<text x="617.4" y="461.2" text-anchor="middle">0.8</text>
<text x="661.6" y="461.2" text-anchor="middle">1</text>
</g>
<text x="559.4" y="487.8" font-size="26.6px" text-anchor="middle">g</text>
<text transform="translate(383.9 349.8) rotate(-90)" font-size="26px" text-anchor="middle"><tspan dy="1.4">&lt;</tspan><tspan dy="-1.4"> x </tspan><tspan dy="1.4">&gt;</tspan></text>
<text x="444.8" y="283.5" font-size="26.5px">(d)</text>
<text x="463" y="311.5" font-size="19.8px">T = 3.6</text>
<text x="570.5" y="424.4" font-size="19.5px">Δ t = 2000</text>
</g>
</svg>
</body></html>
